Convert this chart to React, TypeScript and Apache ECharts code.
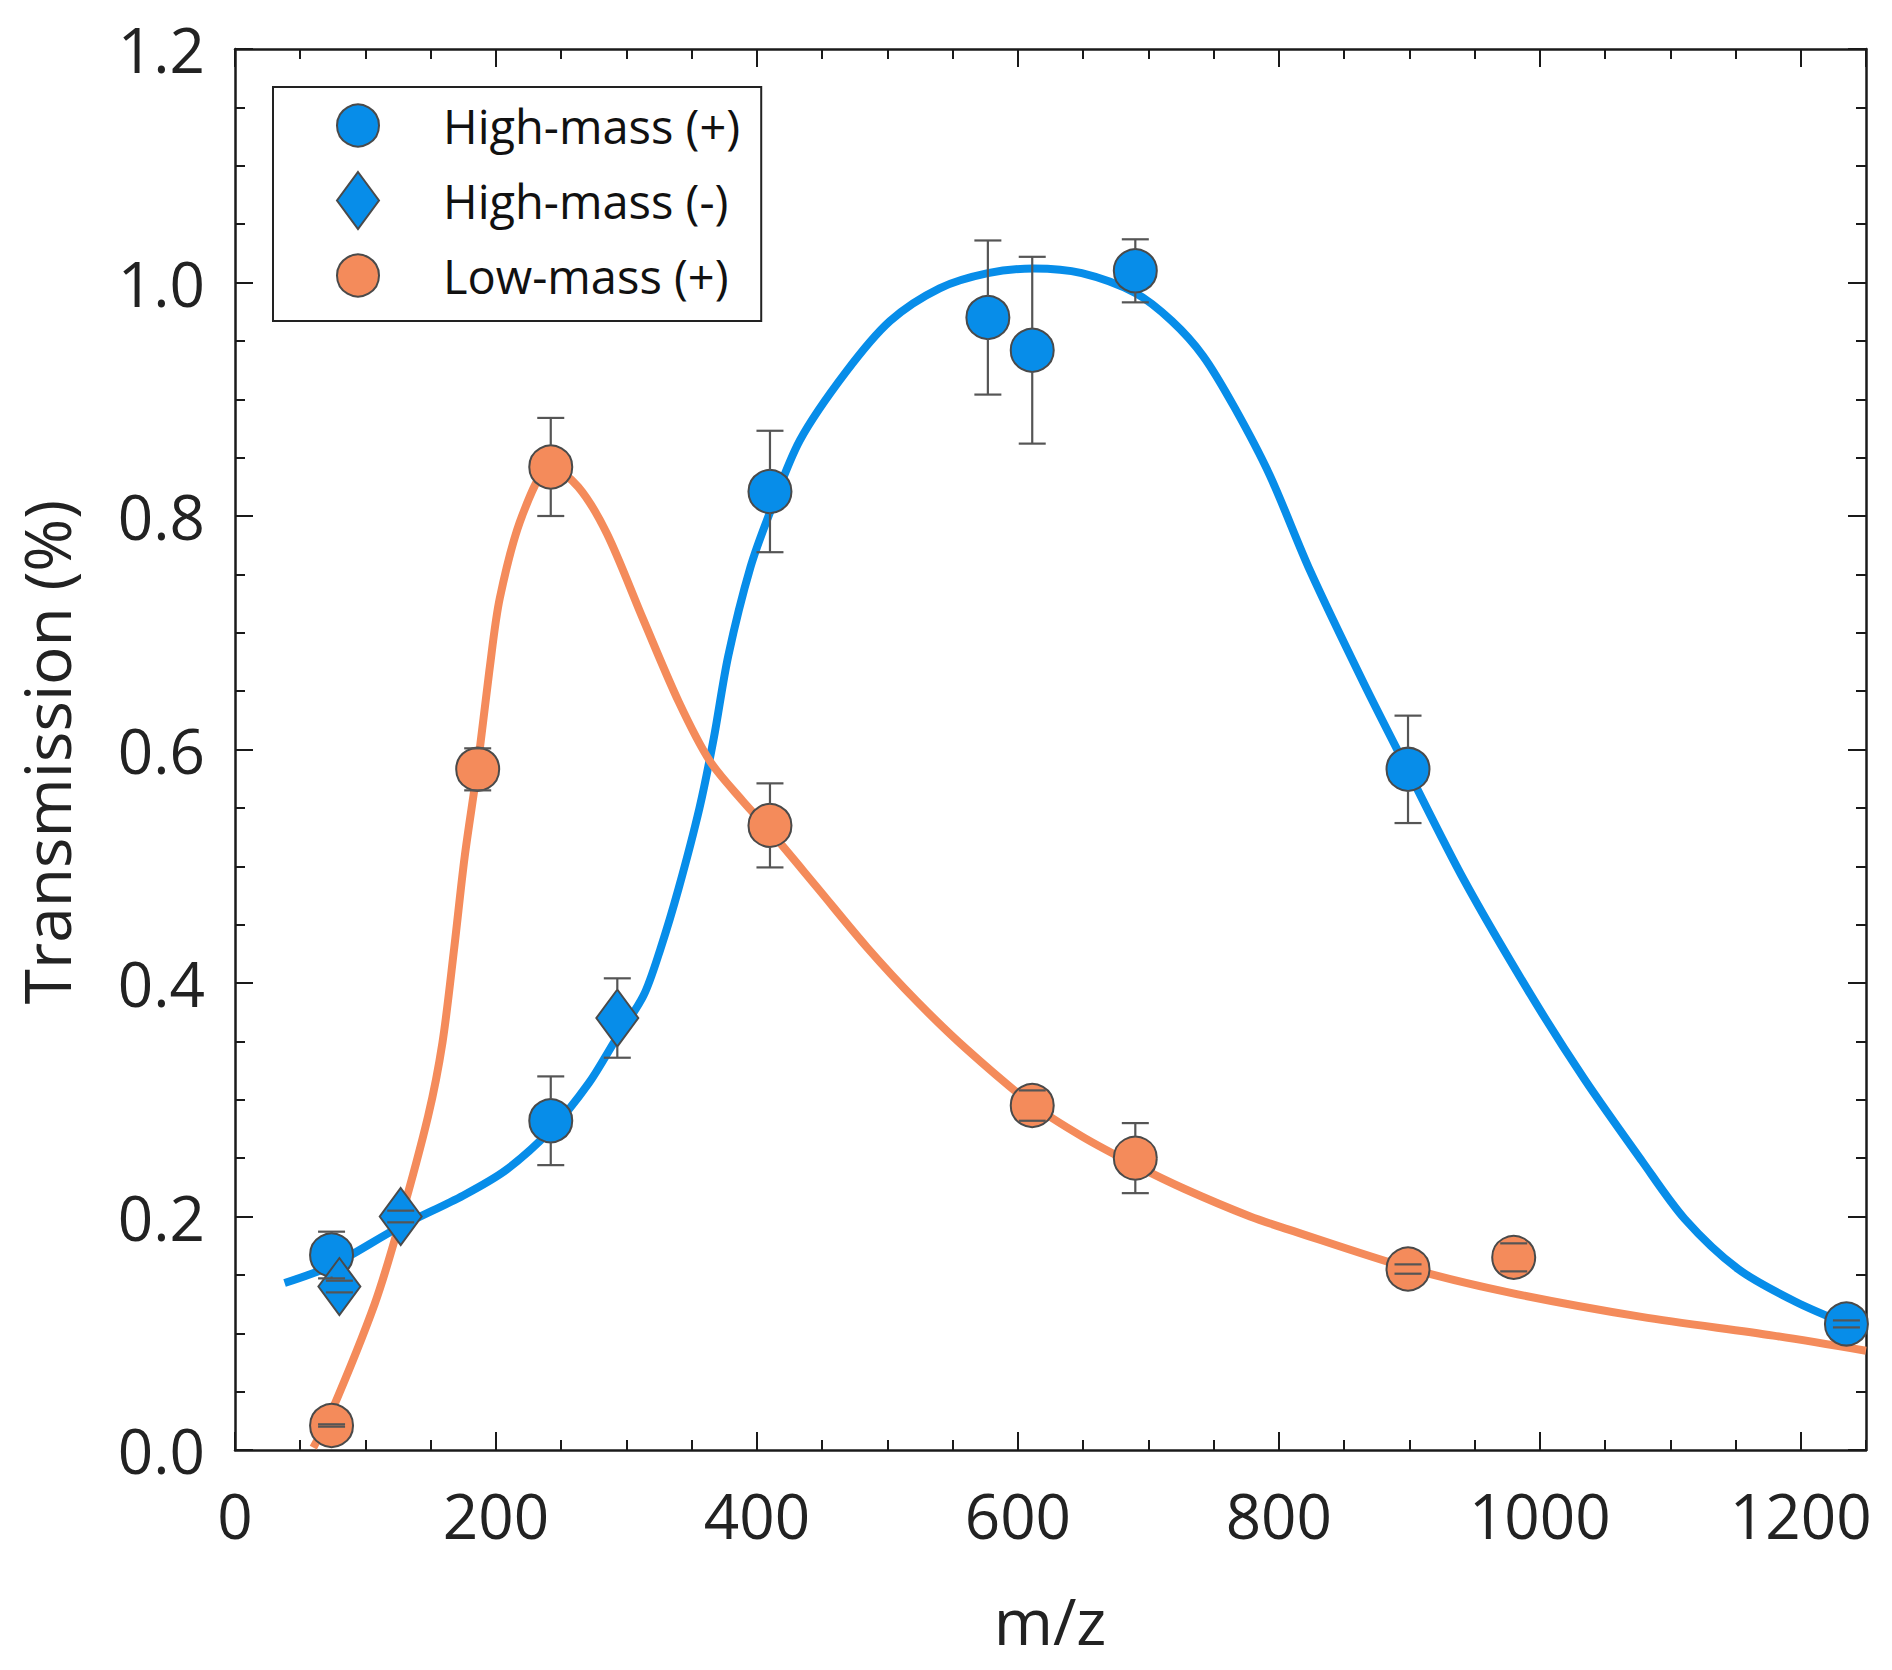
import React, { useEffect, useRef } from "react";
import * as echarts from "echarts";

// ---------- data ----------
const highPosMz = [74, 242, 410, 577, 611, 690, 899, 1235];
const highPosT = [0.167, 0.282, 0.821, 0.97, 0.942, 1.01, 0.583, 0.108];
const highPosErr = [0.02, 0.038, 0.052, 0.066, 0.08, 0.027, 0.046, 0.003];

const highNegMz = [80, 127, 293];
const highNegT = [0.14, 0.2, 0.37];
const highNegErr = [0.005, 0.005, 0.034];

const lowPosMz = [74, 186, 242, 410, 611, 690, 899, 980];
const lowPosT = [0.021, 0.583, 0.842, 0.535, 0.295, 0.25, 0.155, 0.165];
const lowPosErr = [0.001, 0.018, 0.042, 0.036, 0.013, 0.03, 0.004, 0.012];

const highCurveMz = [38, 74, 126, 175, 208, 242, 271, 292, 313, 326, 340, 356, 367, 378, 395, 411, 433, 468, 502, 540, 577, 612, 649, 690, 718, 742, 766, 793, 824, 865, 898, 942, 993, 1034, 1078, 1111, 1152, 1196, 1235];
const highCurveT = [0.143, 0.158, 0.191, 0.218, 0.24, 0.274, 0.314, 0.352, 0.389, 0.429, 0.481, 0.55, 0.61, 0.68, 0.756, 0.806, 0.865, 0.923, 0.967, 0.995, 1.008, 1.012, 1.008, 0.991, 0.967, 0.937, 0.893, 0.835, 0.753, 0.657, 0.584, 0.488, 0.39, 0.318, 0.248, 0.198, 0.155, 0.127, 0.108];

const lowCurveMz = [60, 74, 107, 126, 148, 159, 168, 176, 186, 195, 203, 220, 242, 263, 285, 313, 340, 364, 389, 410, 446, 484, 522, 561, 611, 650, 690, 727, 778, 807, 899, 976, 1078, 1179, 1250];
const lowCurveT = [0.002, 0.033, 0.125, 0.194, 0.286, 0.349, 0.43, 0.508, 0.586, 0.668, 0.73, 0.8, 0.842, 0.825, 0.785, 0.711, 0.641, 0.59, 0.556, 0.53, 0.482, 0.431, 0.385, 0.343, 0.296, 0.268, 0.244, 0.224, 0.2, 0.189, 0.156, 0.135, 0.114, 0.098, 0.085];

const xTicks = { min: 0, max: 1250, major: 200, minor: 50 };
const yTicks = { min: 0, max: 1.2, major: 0.2 };

const seriesNames = ["High-mass (+)", "High-mass (-)", "Low-mass (+)"];

// ---------- styles ----------
const BLUE = "#078de9";
const ORANGE = "#f48b5b";
const EDGE = "#4a4a4a";
const AXIS = "#1a1a1a";
const FONT = "Open Sans";

const pairs = (xs: number[], ys: number[]) => xs.map((x, i) => [x, ys[i]]);
const triples = (xs: number[], ys: number[], es: number[]) => xs.map((x, i) => [x, ys[i], es[i]]);

function errorSeries(data: number[][], radius: number) {
  return {
    type: "custom",
    xAxisIndex: 0,
    yAxisIndex: 0,
    z: 5,
    silent: true,
    data,
    encode: { x: 0, y: 1 },
    renderItem: (_params: any, api: any) => {
      const x = api.value(0);
      const y = api.value(1);
      const e = api.value(2);
      const c = api.coord([x, y]);
      const hi = api.coord([x, y + e]);
      const lo = api.coord([x, y - e]);
      const hw = 13.5;
      const style = { stroke: "#555", lineWidth: 2.2 };
      const children: any[] = [
        { type: "line", shape: { x1: c[0] - hw, y1: hi[1], x2: c[0] + hw, y2: hi[1] }, style },
        { type: "line", shape: { x1: c[0] - hw, y1: lo[1], x2: c[0] + hw, y2: lo[1] }, style },
      ];
      if (hi[1] < c[1] - radius) {
        children.push({ type: "line", shape: { x1: c[0], y1: hi[1], x2: c[0], y2: c[1] - radius }, style });
      }
      if (lo[1] > c[1] + radius) {
        children.push({ type: "line", shape: { x1: c[0], y1: c[1] + radius, x2: c[0], y2: lo[1] }, style });
      }
      return { type: "group", children };
    },
  };
}

function xAxisDef(position: "top" | "bottom", major: boolean) {
  return {
    type: "value",
    position,
    min: xTicks.min,
    max: xTicks.max,
    interval: major ? xTicks.major : xTicks.minor,
    axisLine: { show: major, onZero: false, lineStyle: { color: AXIS, width: 2.5 } },
    axisTick: { show: true, inside: true, length: major ? 18 : 10, lineStyle: { color: AXIS, width: 2 } },
    axisLabel: {
      show: major && position === "bottom",
      showMaxLabel: false,
      fontSize: 62,
      fontFamily: FONT,
      color: "#222",
      margin: 34,
      formatter: (v: number) => String(v),
    },
    splitLine: { show: false },
  };
}

function yAxisDef(position: "left" | "right") {
  return {
    type: "value",
    position,
    min: yTicks.min,
    max: yTicks.max,
    interval: yTicks.major,
    axisLine: { show: true, onZero: false, lineStyle: { color: AXIS, width: 2.5 } },
    axisTick: { show: true, inside: true, length: 18, lineStyle: { color: AXIS, width: 2 } },
    minorTick: { show: true, splitNumber: 4, length: 10, lineStyle: { color: AXIS, width: 2 } },
    axisLabel: {
      show: position === "left",
      fontSize: 62,
      fontFamily: FONT,
      color: "#222",
      margin: 30,
      formatter: (v: number) => v.toFixed(1),
    },
    splitLine: { show: false },
    minorSplitLine: { show: false },
  };
}

export default function App() {
  const ref = useRef<HTMLDivElement>(null);

  useEffect(() => {
    if (!ref.current) return;
    const chart = echarts.init(ref.current, undefined, { renderer: "svg" });
    const markerStyle = (color: string) => ({ color, opacity: 1, borderColor: EDGE, borderWidth: 2 });

    chart.setOption({
      animation: false,
      backgroundColor: "#ffffff",
      grid: { left: 235, right: 26, top: 49, bottom: 220, containLabel: false },
      xAxis: [xAxisDef("bottom", true), xAxisDef("bottom", false), xAxisDef("top", true), xAxisDef("top", false)],
      yAxis: [yAxisDef("left"), yAxisDef("right")],
      legend: {
        data: [
          { name: seriesNames[0], icon: "circle" },
          { name: seriesNames[1], icon: "diamond" },
          { name: seriesNames[2], icon: "circle" },
        ],
        orient: "vertical",
        left: 273,
        top: 87,
        itemWidth: 42,
        itemHeight: 57,
        itemGap: 22,
        symbolKeepAspect: false,
        padding: [15, 21, 22, 63],
        borderColor: "#222",
        borderWidth: 2,
        backgroundColor: "#ffffff",
        selectedMode: false,
        itemStyle: { opacity: 1, borderColor: EDGE, borderWidth: 2 },
        textStyle: { fontSize: 47, fontFamily: FONT, color: "#111", padding: [0, 0, 0, 59] },
      },
      graphic: [
        {
          type: "text",
          x: 1050,
          y: 1620,
          style: { text: "m/z", fontSize: 64, fontFamily: FONT, fill: "#222", align: "center", verticalAlign: "middle" },
        },
        {
          type: "text",
          x: 46,
          y: 752,
          rotation: Math.PI / 2,
          style: { text: "Transmission (%)", fontSize: 64, fontFamily: FONT, fill: "#222", align: "center", verticalAlign: "middle" },
        },
      ],
      series: [
        {
          type: "line",
          name: "high-fit",
          data: pairs(highCurveMz, highCurveT),
          smooth: 0.3,
          showSymbol: false,
          silent: true,
          z: 2,
          lineStyle: { color: BLUE, width: 8 },
        },
        {
          type: "line",
          name: "low-fit",
          data: pairs(lowCurveMz, lowCurveT),
          smooth: 0.3,
          showSymbol: false,
          silent: true,
          z: 2,
          lineStyle: { color: ORANGE, width: 8 },
        },
        {
          type: "scatter",
          name: seriesNames[0],
          data: pairs(highPosMz, highPosT),
          symbol: "circle",
          symbolSize: 43,
          itemStyle: markerStyle(BLUE),
          z: 3,
        },
        {
          type: "scatter",
          name: seriesNames[2],
          data: pairs(lowPosMz, lowPosT),
          symbol: "circle",
          symbolSize: 43,
          itemStyle: markerStyle(ORANGE),
          z: 3,
        },
        {
          type: "scatter",
          name: seriesNames[1],
          data: pairs(highNegMz, highNegT),
          symbol: "diamond",
          symbolSize: [42, 57],
          itemStyle: markerStyle(BLUE),
          z: 4,
        },
        errorSeries(triples(highPosMz, highPosT, highPosErr), 21.5),
        errorSeries(triples(lowPosMz, lowPosT, lowPosErr), 21.5),
        errorSeries(triples(highNegMz, highNegT, highNegErr), 28.5),
      ],
    });

    return () => chart.dispose();
  }, []);

  return (
    <div
      ref={ref}
      style={{ position: "absolute", left: 0, top: 0, width: 1892, height: 1670, background: "#fff" }}
    />
  );
}
